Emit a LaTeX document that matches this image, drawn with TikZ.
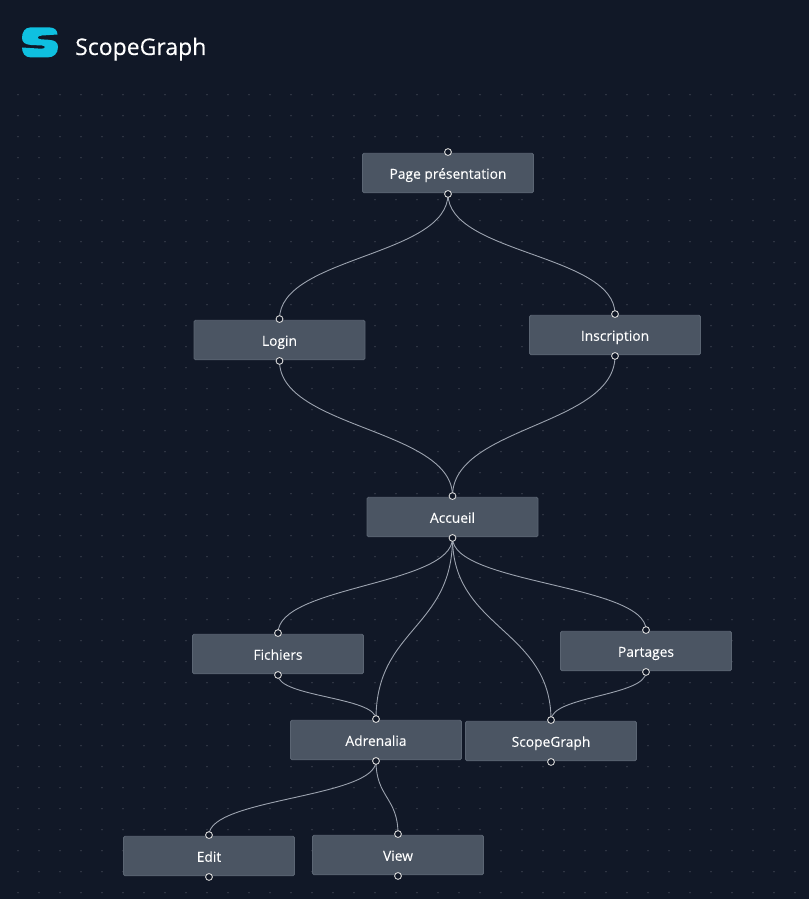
\documentclass[tikz,border=0pt]{standalone}
\usepackage{fontspec}
\setmainfont{Open Sans}
\newfontface\uiface[FakeBold=0.12]{Open Sans}
\newfontface\titleface[FakeBold=0.2]{Open Sans}
\usetikzlibrary{calc}
\pgfdeclarelayer{backdrop}
\pgfdeclarelayer{edges}
\pgfsetlayers{backdrop,edges,main}
\definecolor{bgc}{HTML}{111827}
\definecolor{boxc}{HTML}{4B5563}
\definecolor{boxl}{HTML}{5B6573}
\definecolor{edgec}{HTML}{9CA3AF}
\definecolor{dotc}{HTML}{565C68}
\definecolor{logoc}{HTML}{0FC0E0}
\tikzset{
  x=1pt,y=-1pt,
  pagebox/.style={draw=boxl,fill=boxc,rounded corners=1.5pt,line width=.8pt,minimum width=171pt,minimum height=39.5pt,inner sep=0pt,text=white,text height=15pt,text depth=3.5pt,font=\uiface\fontsize{13.8}{16}\selectfont},
  hnd/.style={circle,draw=white!85!black,fill=bgc,line width=.9pt,minimum size=6.8pt,inner sep=0pt},
  lnk/.style={draw=edgec,line width=.9pt},
}
\newcommand{\flowlink}[2]{%
  \path let \p1=(#1.center),\p2=(#2.center) in
    [lnk] (#1.center) .. controls (\x1,{0.5*(\y1+\y2)}) and (\x2,{0.5*(\y1+\y2)}) .. (#2.center);}
\newcommand{\flownode}[4]{% name, cx, cy, text
  \node[pagebox] (#1) at (#2,#3) {#4};
  \node[hnd] (#1t) at ([yshift=.8pt]#1.north) {};
  \node[hnd] (#1b) at ([yshift=-.8pt]#1.south) {};}
\begin{document}
\begin{tikzpicture}
\useasboundingbox (0,0) rectangle (809,899);
\begin{pgfonlayer}{backdrop}
\fill[bgc] (0,0) rectangle (809,899);
\foreach \i in {0,...,37}{\foreach \j in {0,...,38}{
  \fill[dotc] ({18+21*\i},{94.7+21*\j}) circle (.6);}}
\end{pgfonlayer}
% logo
\fill[logoc] (30,27.5) -- (50,27.5) .. controls (54,27.5) and (57.5,30) .. (57.5,34.5)
  -- (42,35.5) .. controls (36.5,35.8) and (36.5,39) .. (41,39.3)
  -- (49,39.8) .. controls (55,40.2) and (58,42.5) .. (58,47)
  .. controls (58,53.5) and (54,57.5) .. (47,57.5)
  -- (31,57.5) .. controls (25,57.5) and (22,53) .. (22,47.5)
  -- (41,48.7) .. controls (46,49) and (46,45.7) .. (42,45.5)
  -- (31,45) .. controls (25,44.7) and (22,42) .. (22,38)
  .. controls (22,32) and (25,27.5) .. (30,27.5) -- cycle;
\node[text=white,anchor=base west,inner sep=0pt,font=\titleface\fontsize{23}{26}\selectfont] (title) at (75,55) {ScopeGraph};
\flownode{page}{448}{173}{Page présentation}
\flownode{login}{279.5}{340}{Login}
\flownode{insc}{615}{335}{Inscription}
\flownode{acc}{452.5}{517}{Accueil}
\flownode{fich}{278}{654}{Fichiers}
\flownode{part}{646}{651}{Partages}
\flownode{adr}{376}{740}{Adrenalia}
\flownode{scg}{551}{741}{ScopeGraph}
\flownode{edit}{209}{856}{Edit}
\flownode{view}{398}{855}{View}
\begin{pgfonlayer}{edges}
\flowlink{pageb}{logint}
\flowlink{pageb}{insct}
\flowlink{loginb}{acct}
\flowlink{inscb}{acct}
\flowlink{accb}{ficht}
\flowlink{accb}{adrt}
\flowlink{accb}{scgt}
\flowlink{accb}{partt}
\flowlink{fichb}{adrt}
\flowlink{partb}{scgt}
\flowlink{adrb}{editt}
\flowlink{adrb}{viewt}
\end{pgfonlayer}
\end{tikzpicture}
\end{document}
